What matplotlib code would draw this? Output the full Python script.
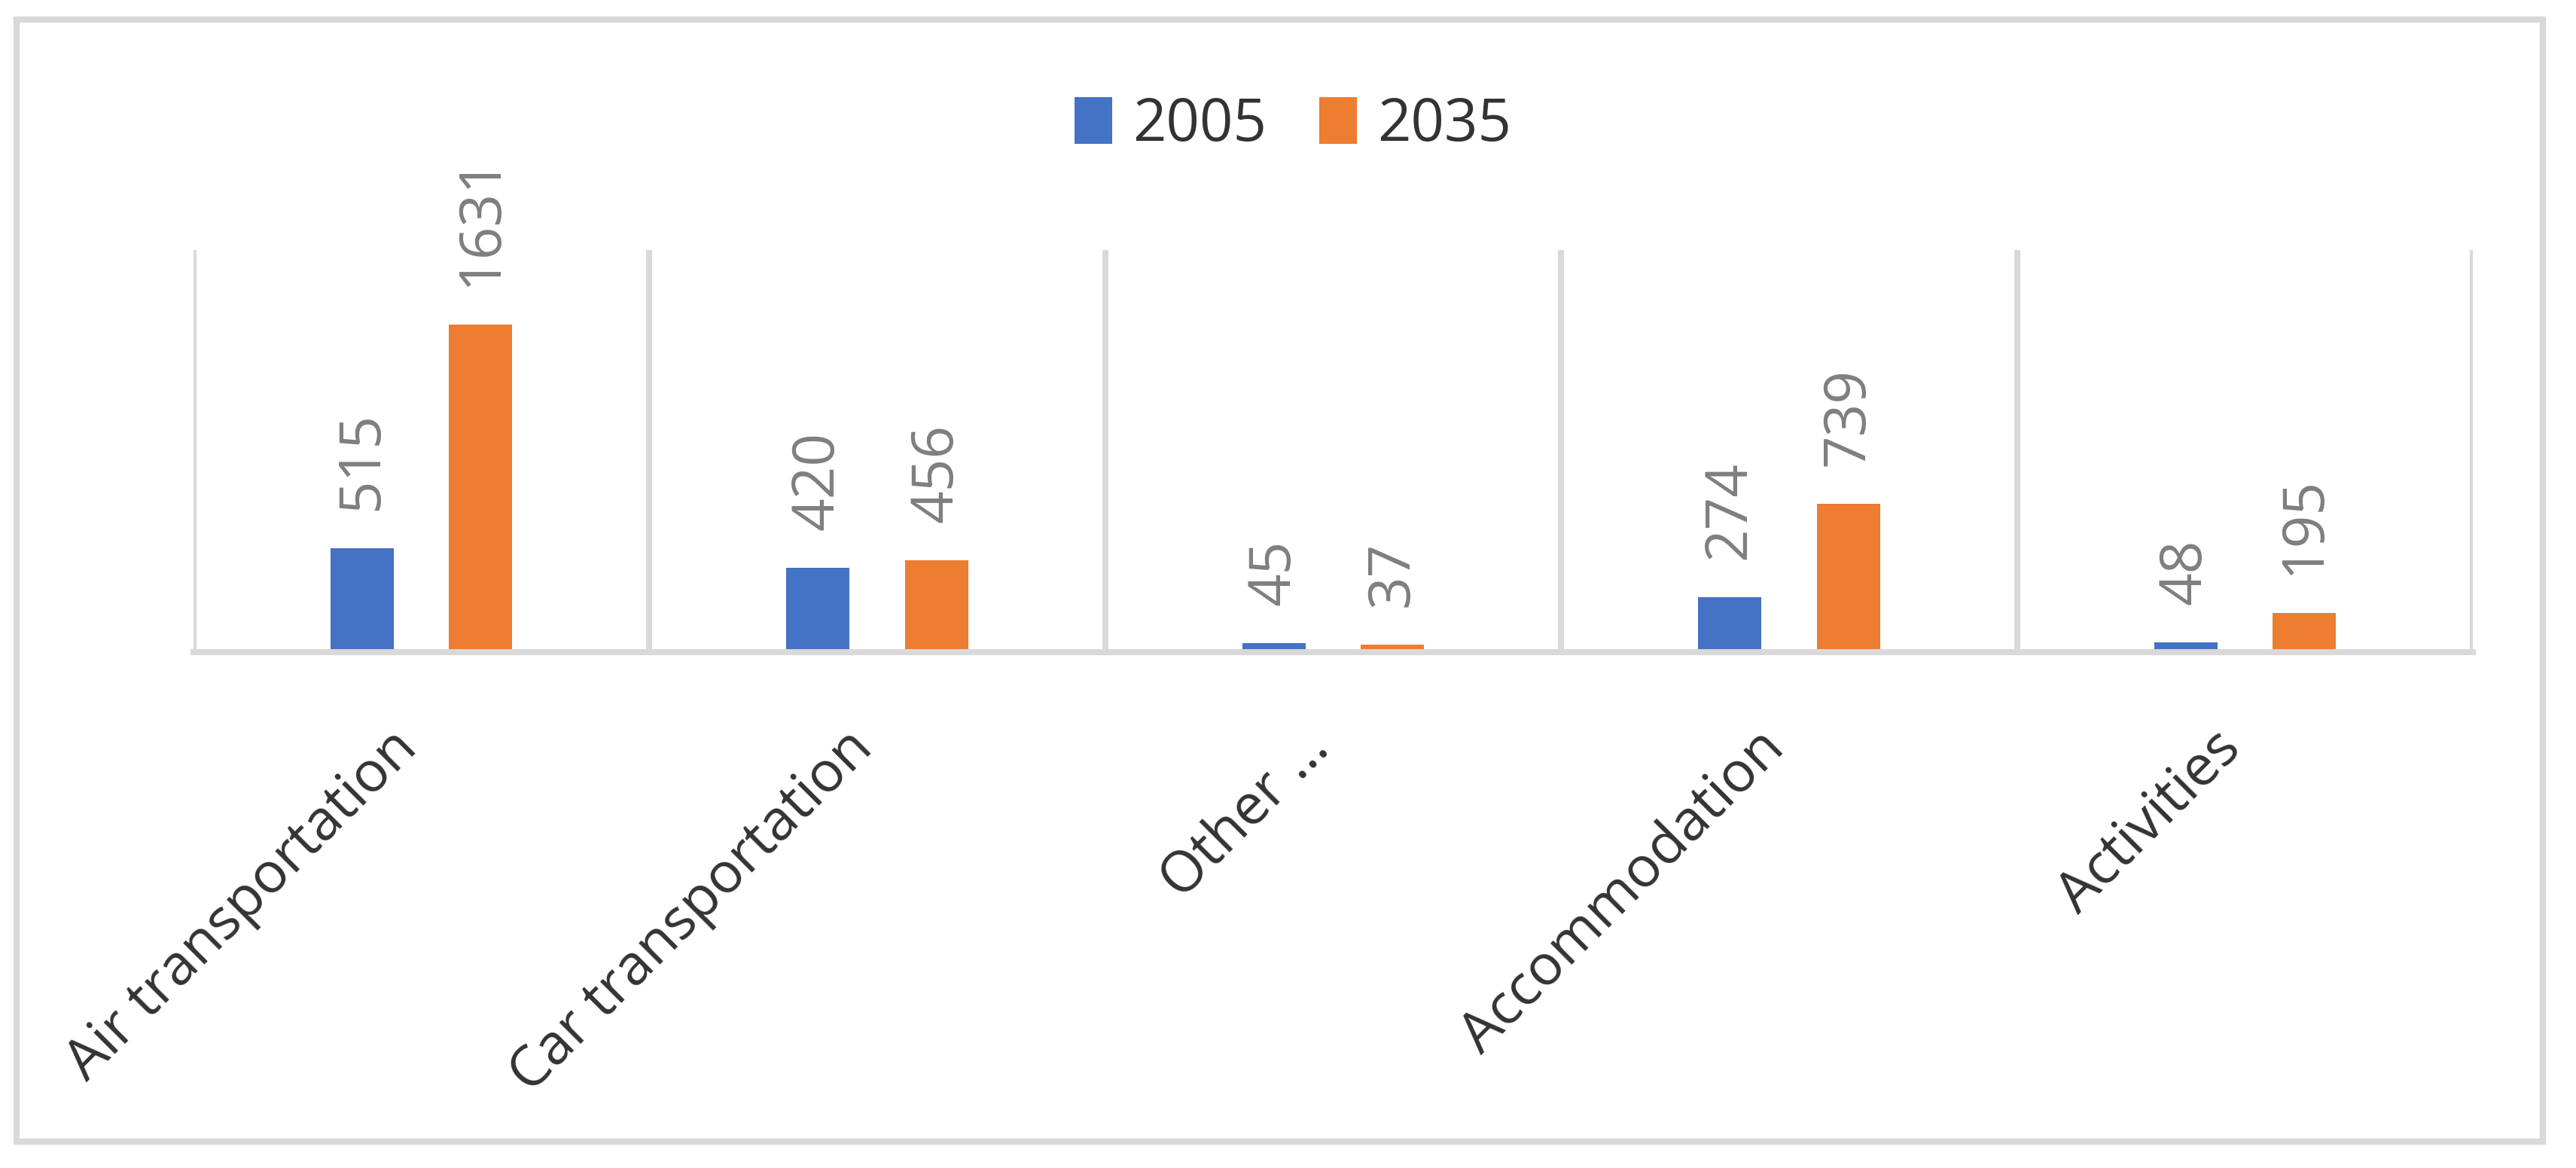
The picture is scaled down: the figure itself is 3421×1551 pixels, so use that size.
import numpy as np
import matplotlib.pyplot as plt
import matplotlib.transforms as mtransforms
from matplotlib.patches import Rectangle

categories = ['Air transportation', 'Car transportation', 'Other \u2026', 'Accommodation', 'Activities']
years = ['2005', '2035']
values_2005 = [515, 420, 45, 274, 48]
values_2035 = [1631, 456, 37, 739, 195]

blue = '#4472C4'
orange = '#ED7D31'
grid_col = '#D9D9D9'

plt.rcParams['font.family'] = ['Open Sans', 'DejaVu Sans']

W, H = 3421, 1551
fig = plt.figure(figsize=(W / 200, H / 200), dpi=200)
ax = fig.add_axes([257 / W, 1 - 866 / H, (3284 - 257) / W, (866 - 332) / H])

x = np.arange(len(categories))
bw = 0.139
b1 = ax.bar(x - 0.13, values_2005, bw, color=blue, label=years[0], zorder=3)
b2 = ax.bar(x + 0.13, values_2035, bw, color=orange, label=years[1], zorder=3)

# data labels, rotated like excel
for bars in (b1, b2):
    ax.bar_label(bars, padding=18, rotation=90, color='#7F7F7F', fontsize=27.5)

ax.set_xlim(-0.5, len(categories) - 0.5)
ax.set_ylim(0, 2000)

# vertical gridlines between categories
for b in np.arange(-0.5, len(categories), 1.0):
    ax.axvline(b, color=grid_col, lw=2.9, zorder=1)

for s in ['top', 'right', 'left']:
    ax.spines[s].set_visible(False)
ax.spines['bottom'].set_color(grid_col)
ax.spines['bottom'].set_linewidth(2.9)
ax.spines['bottom'].set_zorder(4)

ax.set_yticks([])
ax.set_xticks(x)
ax.set_xticklabels(categories, rotation=45, ha='right', va='center',
                   rotation_mode='anchor', fontsize=27, color='#333333')
ax.tick_params(axis='x', length=0, pad=42)
shift = mtransforms.ScaledTranslation(-17 / 200, 0, fig.dpi_scale_trans)
for lbl in ax.get_xticklabels():
    lbl.set_transform(lbl.get_transform() + shift)

leg = fig.legend(loc='center', bbox_to_anchor=(0.502, 1 - 166 / H), ncol=2,
                 frameon=False, fontsize=28, handlelength=0.64, handleheight=0.85,
                 handletextpad=0.35, columnspacing=0.9)
for t in leg.get_texts():
    t.set_color('#333333')

# chart-area border
fig.patches.append(Rectangle((22 / W, 1 - 1516 / H), (3377 - 22) / W, (1516 - 26) / H,
                             transform=fig.transFigure, fill=False,
                             ec=grid_col, lw=3.0))

plt.savefig('out.png', dpi=200, facecolor='white')
